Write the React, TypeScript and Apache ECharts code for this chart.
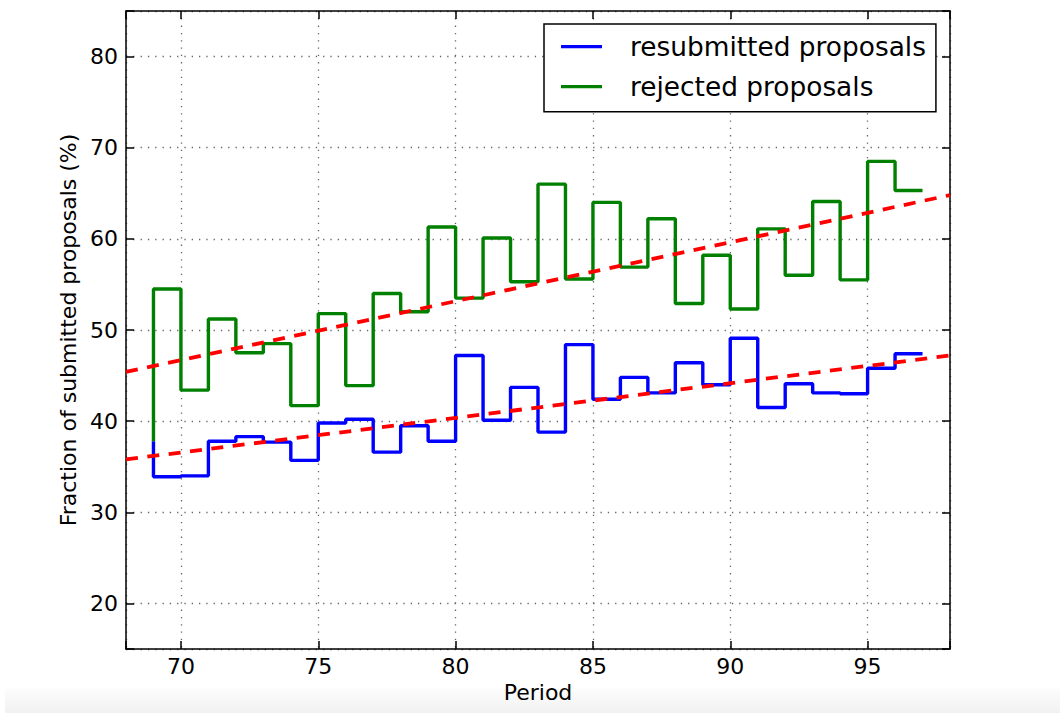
import React, { useEffect, useRef } from "react";
import * as echarts from "echarts";

const periods = [69, 70, 71, 72, 73, 74, 75, 76, 77, 78, 79, 80, 81, 82, 83, 84, 85, 86, 87, 88, 89, 90, 91, 92, 93, 94, 95, 96, 97];
const resubmitted = [37.8, 33.9, 34.0, 37.8, 38.3, 37.7, 35.7, 39.8, 40.2, 36.6, 39.5, 37.8, 47.2, 40.1, 43.7, 38.8, 48.4, 42.4, 44.8, 43.1, 46.4, 44.0, 49.1, 41.5, 44.1, 43.1, 43.0, 45.8, 47.4];
const rejected = [37.8, 54.5, 43.4, 51.2, 47.5, 48.5, 41.7, 51.8, 43.9, 54.0, 52.0, 61.3, 53.5, 60.1, 55.3, 66.0, 55.6, 64.0, 56.9, 62.2, 52.9, 58.2, 52.3, 61.1, 56.0, 64.1, 55.5, 68.5, 65.3];
const fitX = [68, 98];
const resubmittedFit = [35.8, 47.2];
const rejectedFit = [45.4, 64.8];
const seriesNames = ["resubmitted proposals", "rejected proposals"];

const FONT = "DejaVu Sans";

export default function App() {
  const ref = useRef<HTMLDivElement>(null);
  useEffect(() => {
    if (!ref.current) return;
    const chart = echarts.init(ref.current, undefined, { renderer: "svg" });
    const frameLine = { show: true, lineStyle: { color: "#000", width: 1.5 } };
    const tick = { show: true, inside: true, length: 8, lineStyle: { color: "#000", width: 1.5 } };
    const grid = { show: true, lineStyle: { color: "#666", width: 1.3, type: [1.3, 6] } };
    const label = (step: number) => ({
      fontSize: 22,
      fontFamily: FONT,
      color: "#000",
      formatter: (v: number) => (Math.abs(v % step) < 1e-9 ? String(v) : ""),
    });
    chart.setOption({
      animation: false,
      backgroundColor: "#fff",
      graphic: [
        {
          type: "rect",
          z: -10,
          silent: true,
          shape: { x: 5, y: 688, width: 1055, height: 25 },
          style: {
            fill: new echarts.graphic.LinearGradient(0, 0, 0, 1, [
              { offset: 0, color: "#fdfdfd" },
              { offset: 1, color: "#f1f1f1" },
            ]),
          },
        },
      ],
      grid: { left: 126, top: 11, width: 824, height: 638, containLabel: false },
      legend: {
        left: 544,
        top: 24,
        orient: "vertical",
        data: seriesNames,
        icon: "rect",
        itemWidth: 41,
        itemHeight: 3.3,
        itemGap: 4,
        padding: [4.7, 10, 7, 17],
        borderColor: "#000",
        borderWidth: 1.5,
        borderRadius: 0,
        backgroundColor: "#fff",
        textStyle: { fontSize: 26.4, fontFamily: FONT, color: "#000", lineHeight: 36, padding: [0, 0, 0, 23] },
      },
      xAxis: [
        {
          type: "value",
          min: 68,
          max: 98,
          splitNumber: 6,
          position: "bottom",
          axisLine: frameLine,
          axisTick: tick,
          axisLabel: { ...label(5), margin: 6 },
          splitLine: grid,
          name: "Period",
          nameLocation: "middle",
          nameGap: 32,
          nameTextStyle: { fontSize: 22, fontFamily: FONT, color: "#000" },
        },
        {
          type: "value",
          min: 68,
          max: 98,
          splitNumber: 6,
          position: "top",
          axisLine: frameLine,
          axisTick: tick,
          axisLabel: { show: false },
          splitLine: { show: false },
        },
      ],
      yAxis: [
        {
          type: "value",
          min: 15,
          max: 85,
          splitNumber: 7,
          position: "left",
          axisLine: frameLine,
          axisTick: tick,
          axisLabel: { ...label(10), margin: 8 },
          splitLine: grid,
          name: "Fraction of submitted proposals (%)",
          nameLocation: "middle",
          nameRotate: 90,
          nameGap: 44,
          nameTextStyle: { fontSize: 22, fontFamily: FONT, color: "#000" },
        },
        {
          type: "value",
          min: 15,
          max: 85,
          splitNumber: 7,
          position: "right",
          axisLine: frameLine,
          axisTick: tick,
          axisLabel: { show: false },
          splitLine: { show: false },
        },
      ],
      series: [
        {
          name: seriesNames[0],
          type: "line",
          step: "start",
          showSymbol: false,
          symbol: "none",
          data: periods.map((p, i) => [p, resubmitted[i]]),
          lineStyle: { color: "#0000ff", width: 3.4 },
          itemStyle: { color: "#0000ff" },
          z: 2,
        },
        {
          name: seriesNames[1],
          type: "line",
          step: "start",
          showSymbol: false,
          symbol: "none",
          data: periods.map((p, i) => [p, rejected[i]]),
          lineStyle: { color: "#008000", width: 3.4 },
          itemStyle: { color: "#008000" },
          z: 3,
        },
        {
          name: "resubmitted fit",
          type: "line",
          showSymbol: false,
          symbol: "none",
          data: fitX.map((x, i) => [x, resubmittedFit[i]]),
          lineStyle: { color: "#ff0000", width: 3.8, type: [12, 9.5] },
          itemStyle: { color: "#ff0000" },
          z: 4,
        },
        {
          name: "rejected fit",
          type: "line",
          showSymbol: false,
          symbol: "none",
          data: fitX.map((x, i) => [x, rejectedFit[i]]),
          lineStyle: { color: "#ff0000", width: 3.8, type: [12, 9.5] },
          itemStyle: { color: "#ff0000" },
          z: 4,
        },
      ],
    });
    return () => chart.dispose();
  }, []);
  return (
    <div
      ref={ref}
      style={{ position: "fixed", left: 0, top: 0, width: 1060, height: 713, background: "#fff" }}
    />
  );
}
